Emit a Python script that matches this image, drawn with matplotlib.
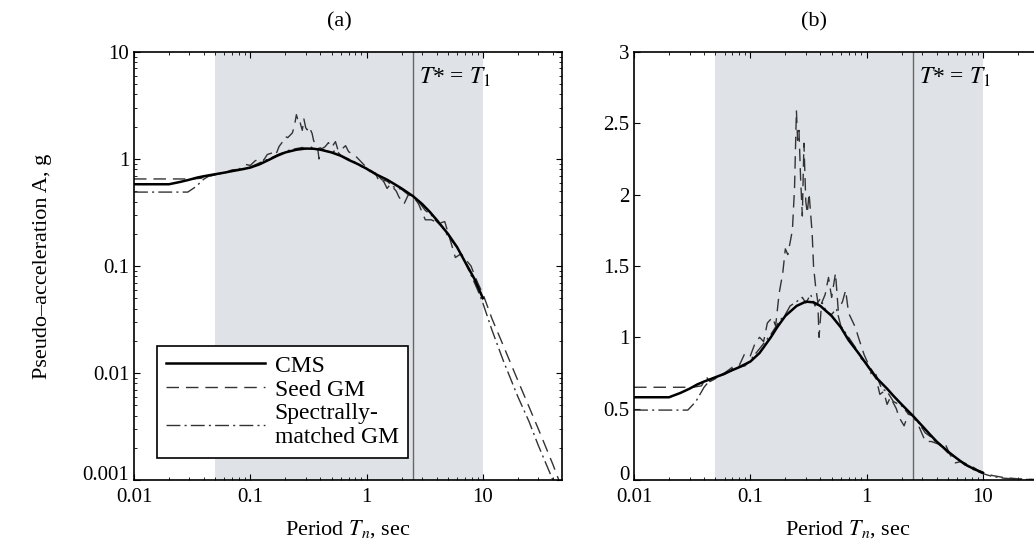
import matplotlib
matplotlib.use('Agg')
import matplotlib.pyplot as plt
import matplotlib.transforms as mtransforms
import numpy as np

plt.rcParams['font.family'] = ['Liberation Serif', 'DejaVu Serif']
plt.rcParams['mathtext.fontset'] = 'stix'

# conditional mean spectrum (smooth target)
cms_T = [0.01, 0.015, 0.02, 0.025, 0.03, 0.035, 0.04, 0.05, 0.06, 0.07, 0.08, 0.1,
         0.12, 0.15, 0.17, 0.2, 0.25, 0.3, 0.35, 0.4, 0.5, 0.6, 0.7, 0.85, 1.0, 1.2,
         1.5, 1.7, 2.0, 2.5, 3.0, 3.5, 4.0, 5.0, 6.0, 7.0, 8.5, 10.0]
cms_A = [0.58, 0.58, 0.58, 0.61, 0.64, 0.67, 0.69, 0.72, 0.745, 0.77, 0.79, 0.83,
         0.89, 1.0, 1.07, 1.15, 1.22, 1.25, 1.245, 1.22, 1.15, 1.07, 0.98, 0.89, 0.81,
         0.72, 0.64, 0.59, 0.53, 0.45, 0.38, 0.32, 0.27, 0.20, 0.15, 0.11, 0.075, 0.05]

# seed ground motion
seed_T = [0.01, 0.032, 0.038, 0.042, 0.045, 0.05, 0.06, 0.07, 0.08, 0.09, 0.1, 0.11,
          0.12, 0.13, 0.14, 0.155, 0.165, 0.177, 0.19, 0.2, 0.21, 0.23, 0.24, 0.249,
          0.255, 0.262, 0.271, 0.28, 0.289, 0.3, 0.309, 0.32, 0.34, 0.35, 0.365, 0.38,
          0.39, 0.41, 0.44, 0.47, 0.5, 0.54, 0.57, 0.62, 0.66, 0.7, 0.8, 0.85, 0.95,
          1.05, 1.15, 1.2, 1.3, 1.4, 1.5, 1.6, 1.8, 1.9, 2.1, 2.3, 2.5, 2.8, 3.2, 3.6,
          4.2, 4.7, 5.2, 5.8, 6.5, 7.9, 9.0, 10.0, 12.0, 15.0, 20.0, 25.0, 30.0, 40.0,
          45.0, 50.0]
seed_A = [0.65, 0.65, 0.66, 0.72, 0.69, 0.71, 0.75, 0.79, 0.80, 0.89, 0.87, 0.96,
          1.00, 0.97, 1.10, 1.14, 1.08, 1.31, 1.45, 1.62, 1.58, 1.75, 2.05, 2.59,
          2.38, 2.45, 2.10, 1.85, 2.36, 1.95, 1.87, 2.01, 1.73, 1.49, 1.35, 1.25,
          1.00, 1.24, 1.30, 1.42, 1.28, 1.45, 1.19, 1.25, 1.33, 1.17, 1.07, 1.00, 0.88,
          0.80, 0.75, 0.72, 0.60, 0.62, 0.53, 0.58, 0.50, 0.44, 0.38, 0.47, 0.45, 0.38,
          0.27, 0.27, 0.25, 0.26, 0.18, 0.12, 0.13, 0.10, 0.07, 0.055, 0.032, 0.018,
          0.0085, 0.0048, 0.003, 0.0014, 0.001, 0.0008]

# spectrally-matched ground motion
match_T = [0.01, 0.029, 0.034, 0.04, 0.045, 0.05, 0.06, 0.07, 0.08, 0.09, 0.1, 0.12,
           0.15, 0.18, 0.2, 0.22, 0.25, 0.28, 0.3, 0.33, 0.36, 0.4, 0.45, 0.5, 0.55,
           0.6, 0.7, 0.8, 0.9, 1.0, 1.1, 1.2, 1.35, 1.5, 1.7, 2.0, 2.3, 2.5, 2.8, 3.2,
           3.6, 4.0, 4.5, 5.0, 6.0, 7.0, 8.0, 9.0, 10.0, 12.0, 15.0, 20.0, 25.0, 30.0,
           40.0, 50.0]
match_A = [0.49, 0.49, 0.55, 0.65, 0.70, 0.72, 0.74, 0.78, 0.79, 0.80, 0.84, 0.92,
           1.02, 1.12, 1.16, 1.22, 1.25, 1.28, 1.24, 1.30, 1.22, 1.27, 1.18, 1.16, 1.20,
           1.08, 1.00, 0.93, 0.85, 0.82, 0.74, 0.74, 0.64, 0.62, 0.55, 0.52, 0.46, 0.45,
           0.40, 0.33, 0.30, 0.26, 0.23, 0.19, 0.15, 0.11, 0.08, 0.06, 0.045, 0.025,
           0.013, 0.006, 0.0035, 0.0021, 0.001, 0.0006]

T_star = 2.5
band = (0.05, 10)
xticks = [0.01, 0.1, 1, 10]
xticklabels = ['0.01', '0.1', '1', '10']

fig = plt.figure(figsize=(10.34, 5.44), dpi=100)
ax1 = fig.add_axes([0.1296, 0.1176, 0.414, 0.787])
ax2 = fig.add_axes([0.6132, 0.1176, 0.414, 0.787])

for ax in (ax1, ax2):
    ax.axvspan(band[0], band[1], color='#dfe3e8', lw=0, zorder=0)
    ax.axvline(T_star, color='#666666', lw=1.0, zorder=1)
    ax.plot(seed_T, seed_A, color='#333333', lw=1.0, dashes=(9, 5), label='Seed GM', zorder=2)
    ax.plot(match_T, match_A, color='#333333', lw=1.0, dashes=(10, 3, 1.5, 3),
            label='Spectrally-\nmatched GM', zorder=2)
    ax.plot(cms_T, cms_A, color='black', lw=1.8, label='CMS', zorder=3)
    ax.set_xscale('log')
    ax.set_xlim(0.01, 48)
    ax.set_xticks(xticks)
    ax.set_xticklabels(xticklabels)
    ax.tick_params(which='both', direction='in', top=True, right=True, labelsize=15)
    ax.tick_params(axis='x', pad=6)
    ax.tick_params(which='major', length=4)
    ax.tick_params(which='minor', length=2)
    ax.set_xlabel('Period $T_n$, sec', fontsize=16, labelpad=8)
    for s in ax.spines.values():
        s.set_linewidth(1.2)
    ax.text(T_star * 1.12, 0.94, '$T$* = $T_1$', transform=ax.get_xaxis_transform(),
            fontsize=17, va='center')

ax1.set_yscale('log')
ax1.set_ylim(0.001, 10)
ax1.set_yticks([0.001, 0.01, 0.1, 1, 10])
ax1.set_yticklabels(['0.001', '0.01', '0.1', '1', '10'])
ax1.set_ylabel('Pseudo–acceleration A, g', fontsize=16, labelpad=22)
ax1.set_title('(a)', fontsize=16, pad=18, x=0.48)

ax2.set_ylim(0, 3)
ax2.set_yticks([0, 0.5, 1, 1.5, 2, 2.5, 3])
ax2.set_yticklabels(['0', '0.5', '1', '1.5', '2', '2.5', '3'])
ax2.set_title('(b)', fontsize=16, pad=18, x=0.42)

# bottom y labels sit a little higher, clear of the x tick labels
shift = mtransforms.ScaledTranslation(0, 5 / 72, fig.dpi_scale_trans)
for ax in (ax1, ax2):
    lab = ax.get_yticklabels()[0]
    lab.set_transform(lab.get_transform() + shift)

h, l = ax1.get_legend_handles_labels()
leg = ax1.legend([h[2], h[0], h[1]], [l[2], l[0], l[1]], loc='lower left',
                 bbox_to_anchor=(0.025, 0.025), fontsize=17, fancybox=False,
                 edgecolor='black', framealpha=1, handlelength=4.2,
                 borderpad=0.4, labelspacing=0.1, handletextpad=0.4)
leg.get_frame().set_linewidth(1.2)

fig.savefig('out.png', dpi=100)
